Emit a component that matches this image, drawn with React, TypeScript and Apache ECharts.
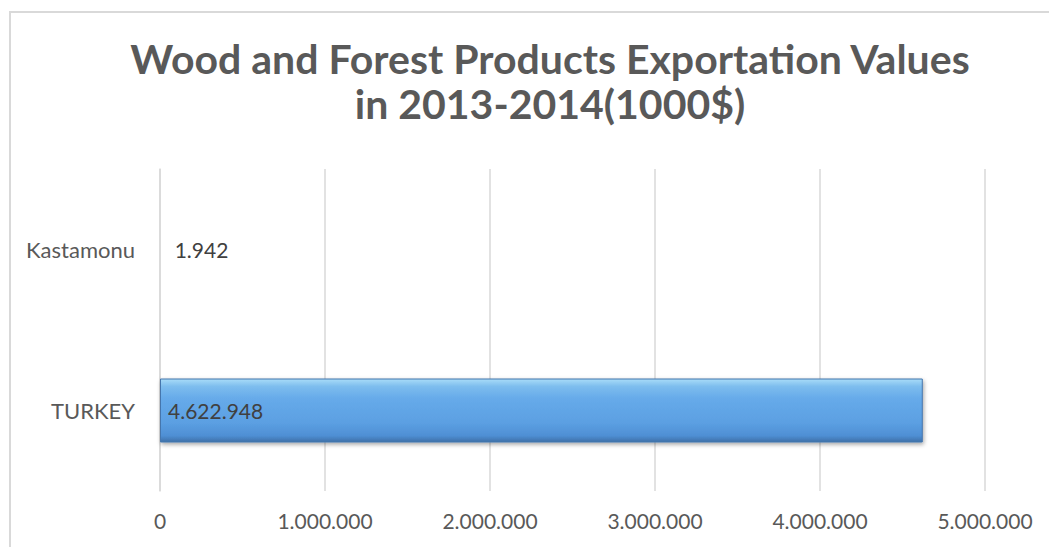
import React, { useEffect, useRef } from "react";
import * as echarts from "echarts";

const categories = ["TURKEY", "Kastamonu"];
const values = [4622948, 1942];
const xTicks = [0, 1000000, 2000000, 3000000, 4000000, 5000000];
const titleLines = ["Wood and Forest Products Exportation Values", "in 2013-2014(1000$)"];

const fmt = (v: number) => String(Math.round(v)).replace(/\B(?=(\d{3})+(?!\d))/g, ".");

export default function App() {
  const ref = useRef<HTMLDivElement>(null);
  useEffect(() => {
    document.body.style.margin = "0";
    const chart = echarts.init(ref.current!, null, { renderer: "svg" });
    const font = "Lato";
    chart.setOption({
      animation: false,
      backgroundColor: "#ffffff",
      textStyle: { fontFamily: font },
      graphic: [
        {
          type: "rect",
          silent: true,
          shape: { x: 10, y: 12, width: 1200, height: 700 },
          style: { fill: "none", stroke: "#d9d9d9", lineWidth: 2 },
        },
        {
          type: "text",
          x: 550,
          y: 58,
          style: {
            text: titleLines[0],
            font: `bold 41px ${font}`,
            fill: "#595959",
            textAlign: "center",
            textVerticalAlign: "middle",
          },
        },
        {
          type: "text",
          x: 550,
          y: 103,
          style: {
            text: titleLines[1],
            font: `bold 41px ${font}`,
            fill: "#595959",
            textAlign: "center",
            textVerticalAlign: "middle",
          },
        },
      ],
      grid: { left: 160, right: 64, top: 169, bottom: 56, containLabel: false },
      xAxis: {
        type: "value",
        min: xTicks[0],
        max: xTicks[xTicks.length - 1],
        interval: xTicks[1] - xTicks[0],
        axisLine: { show: false },
        axisTick: { show: false },
        splitLine: { show: true, lineStyle: { color: "#d9d9d9", width: 1.5 } },
        axisLabel: {
          color: "#595959",
          fontSize: 21,
          fontFamily: font,
          margin: 19,
          formatter: (v: number) => fmt(v),
        },
      },
      yAxis: {
        type: "category",
        data: categories,
        axisLine: { show: true, lineStyle: { color: "#d9d9d9", width: 1.5 } },
        axisTick: { show: false },
        splitLine: { show: false },
        axisLabel: { color: "#595959", fontSize: 22, fontFamily: font, margin: 25 },
      },
      series: [
        {
          type: "bar",
          barWidth: 64,
          data: values.map((v, i) => ({
            value: v,
            label: {
              show: true,
              position: i === 0 ? "insideLeft" : "right",
              distance: i === 0 ? 8 : 14,
              formatter: () => fmt(v),
              color: "#404040",
              fontSize: 21,
              fontFamily: font,
            },
          })),
          itemStyle: {
            color: {
              type: "linear",
              x: 0,
              y: 0,
              x2: 0,
              y2: 1,
              colorStops: [
                { offset: 0, color: "#a9dcf8" },
                { offset: 0.12, color: "#7dbdee" },
                { offset: 0.3, color: "#67abea" },
                { offset: 0.7, color: "#5b9fe2" },
                { offset: 0.9, color: "#4f8fd4" },
                { offset: 1, color: "#3e70a8" },
              ],
            },
            borderColor: "#4576ad",
            borderWidth: 1,
            shadowColor: "rgba(0,0,0,0.35)",
            shadowBlur: 4,
            shadowOffsetX: 1,
            shadowOffsetY: 2,
          },
        },
      ],
    });
    return () => chart.dispose();
  }, []);
  return <div ref={ref} style={{ width: 1049, height: 547 }} />;
}
